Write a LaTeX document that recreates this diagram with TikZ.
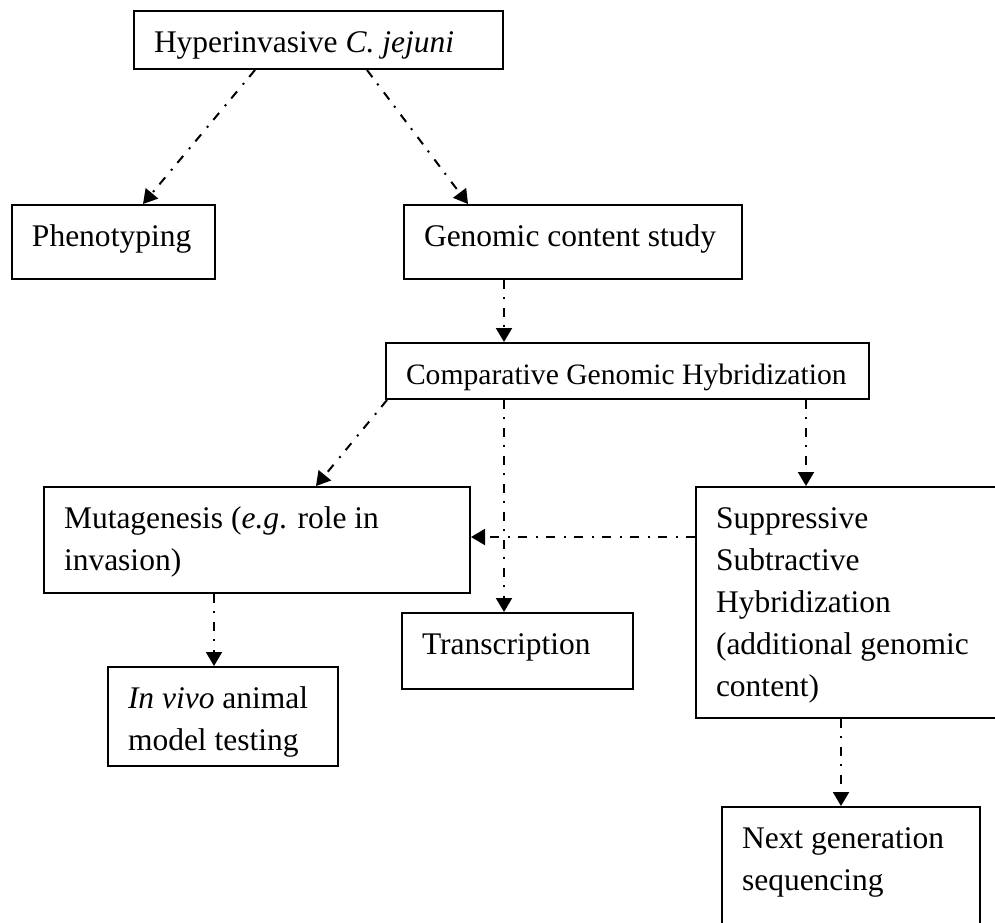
\documentclass[tikz,border=0pt]{standalone}
\usepackage{fontspec}
\setmainfont{Liberation Serif}
\usetikzlibrary{positioning,calc,arrows.meta}
\tikzset{BOX/.style={rectangle,draw,line width=1pt,align=flush left,anchor=north west,inner xsep=10pt,inner ysep=0pt,text height=20.5pt,font=\fontsize{15.75pt}{21pt}\selectfont}}
\tikzset{ARROW/.style={line width=1pt,dash pattern=on 4.5pt off 4pt on 1pt off 4.5pt,-{Triangle[length=7pt,width=8pt]}}}

\begin{document}
\begin{tikzpicture}[x=0.5pt,y=-0.5pt]

\clip (0,0) rectangle (995,922);

\node[BOX, text width=164.5pt, text depth=8.5pt] (n_hyper) at (133,10) {Hyperinvasive \textit{C. jejuni}};
\node[BOX, text width=81.5pt, text depth=16.5pt] (n_pheno) at (11,204) {Phenotyping};
\node[BOX, text width=149pt, text depth=16.5pt] (n_genomic) at (403,204) {Genomic content study};
\node[BOX, text width=221.5pt, text depth=7.5pt, font=\fontsize{14.8pt}{21pt}\selectfont] (n_cgh) at (385,342) {Comparative Genomic Hybridization};
\node[BOX, text width=193pt, text depth=32.5pt] (n_muta) at (43,486) {Mutagenesis (\textit{e.g}. role in \\ invasion)};
\node[BOX, text width=95.5pt, text depth=17.5pt] (n_trans) at (401,612) {Transcription};
\node[BOX, text width=95pt, text depth=29pt] (n_vivo) at (107,666) {\textit{In vivo} animal \\ model testing};
\node[BOX, text width=140pt, text depth=95pt] (n_ssh) at (695,486) {Suppressive \\ Subtractive \\ Hybridization \\ (additional genomic \\ content)};
\node[BOX, text width=109pt, text depth=49.5pt] (n_ngs) at (721,806) {Next generation \\ sequencing};

% top level
\draw[ARROW] ($(n_hyper.south west)+(122,0)$) -- ($(n_pheno.north west)+(132,0)$);
\draw[ARROW] ($(n_hyper.south west)+(234,0)$) -- ($(n_genomic.north west)+(65,0)$);
\draw[ARROW] ($(n_genomic.south west)+(101,0)$) -- ($(n_cgh.north west)+(119,0)$);

% from CGH
\draw[ARROW] ($(n_cgh.south west)+(2,0)$) -- ($(n_muta.north west)+(273,0)$);
\draw[ARROW] ($(n_cgh.south west)+(119,0)$) -- ($(n_trans.north west)+(103,0)$);
\draw[ARROW] ($(n_cgh.south west)+(421,0)$) -- ($(n_ssh.north west)+(111,0)$);

\coordinate (c_ssh_muta) at ($(n_ssh.north west)+(0,51)$);
\draw[ARROW] (c_ssh_muta) -- (c_ssh_muta-|n_muta.east);

% bottom level
\draw[ARROW] ($(n_muta.south west)+(171,0)$) -- ($(n_vivo.north west)+(107,0)$);
\draw[ARROW] ($(n_ssh.south west)+(146,0)$) -- ($(n_ngs.north west)+(120,0)$);

\end{tikzpicture}
\end{document}
